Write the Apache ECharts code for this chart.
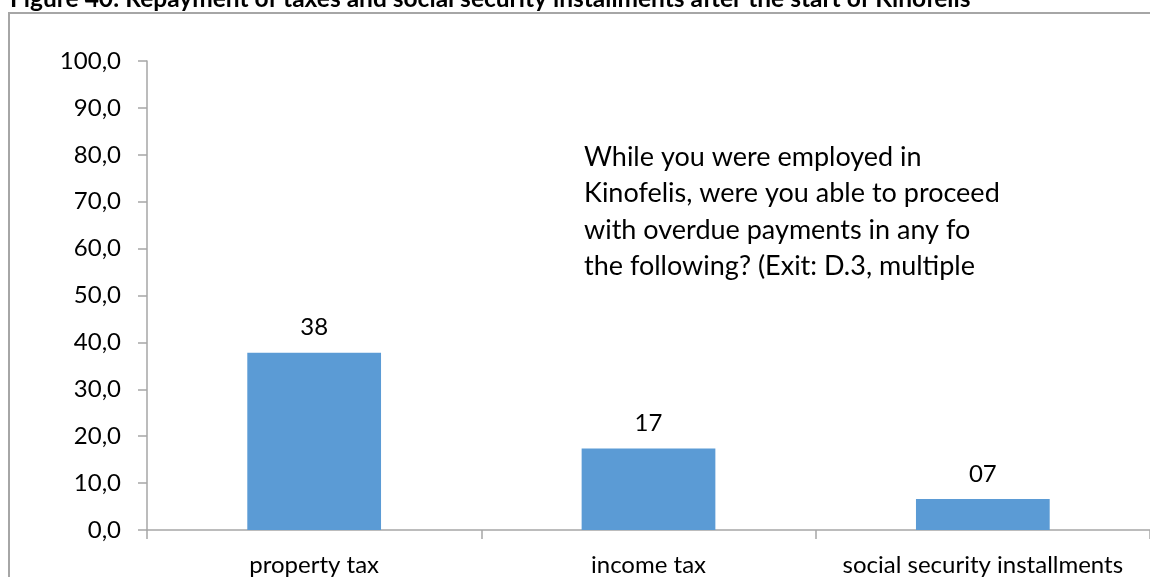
<!DOCTYPE html>
<html>
<head>
<meta charset="utf-8">
<script src="https://cdn.jsdelivr.net/npm/echarts@6/dist/echarts.min.js"></script>
<style>html,body{margin:0;padding:0;background:#fff}#c{width:1150px;height:577px}</style>
</head>
<body>
<div id="c"></div>
<script>
const categories = ['property tax', 'income tax', 'social security installments'];
const values = [37.8, 17.4, 6.6];
const yTicks = { min: 0, max: 100, interval: 10 };
const titleText = 'Figure 40: Repayment of taxes and social security installments after the start of Kinofelis';
const noteLines = ['While you were employed in', 'Kinofelis, were you able to proceed', 'with overdue payments in any fo', 'the following? (Exit: D.3, multiple'];

const FONT = 'Lato, "Open Sans", sans-serif';
const chart = echarts.init(document.getElementById('c'));
chart.setOption({
  animation: false,
  backgroundColor: '#ffffff',
  grid: { left: 147, top: 61, width: 1009, height: 470, containLabel: false },
  xAxis: {
    type: 'category',
    data: categories,
    axisLine: { lineStyle: { color: '#a6a6a6', width: 1.5 } },
    axisTick: { show: true, length: 9, lineStyle: { color: '#a6a6a6', width: 1.5 } },
    axisLabel: { color: '#000', fontFamily: FONT, fontSize: 24, margin: 23, interval: 0, hideOverlap: false }
  },
  yAxis: {
    type: 'value',
    min: yTicks.min, max: yTicks.max, interval: yTicks.interval,
    axisLine: { show: true, lineStyle: { color: '#a6a6a6', width: 1.5 } },
    axisTick: { show: true, length: 9, lineStyle: { color: '#a6a6a6', width: 1.5 } },
    splitLine: { show: false },
    axisLabel: {
      color: '#000', fontFamily: FONT, fontSize: 24, margin: 26,
      formatter: v => v.toFixed(1).replace('.', ',')
    }
  },
  series: [{
    type: 'bar',
    data: values,
    barWidth: '40%',
    itemStyle: { color: '#5b9bd5' },
    label: {
      show: true, position: 'top', distance: 13,
      color: '#000', fontFamily: FONT, fontSize: 24,
      formatter: p => String(Math.round(p.value)).padStart(2, '0')
    }
  }],
  graphic: [
    { type: 'rect', shape: { x: 9, y: 13, width: 1200, height: 700 },
      style: { fill: 'none', stroke: '#a6a6a6', lineWidth: 2 }, z: -1 },
    { type: 'text', left: 10, top: -13,
      style: { text: titleText, font: 'bold 24.5px ' + FONT, fill: '#000' } },
    { type: 'text', left: 584, top: 139,
      style: { text: noteLines.join('\n'), font: '27px ' + FONT, lineHeight: 36.5, fill: '#000' } }
  ]
});
</script>
</body>
</html>
